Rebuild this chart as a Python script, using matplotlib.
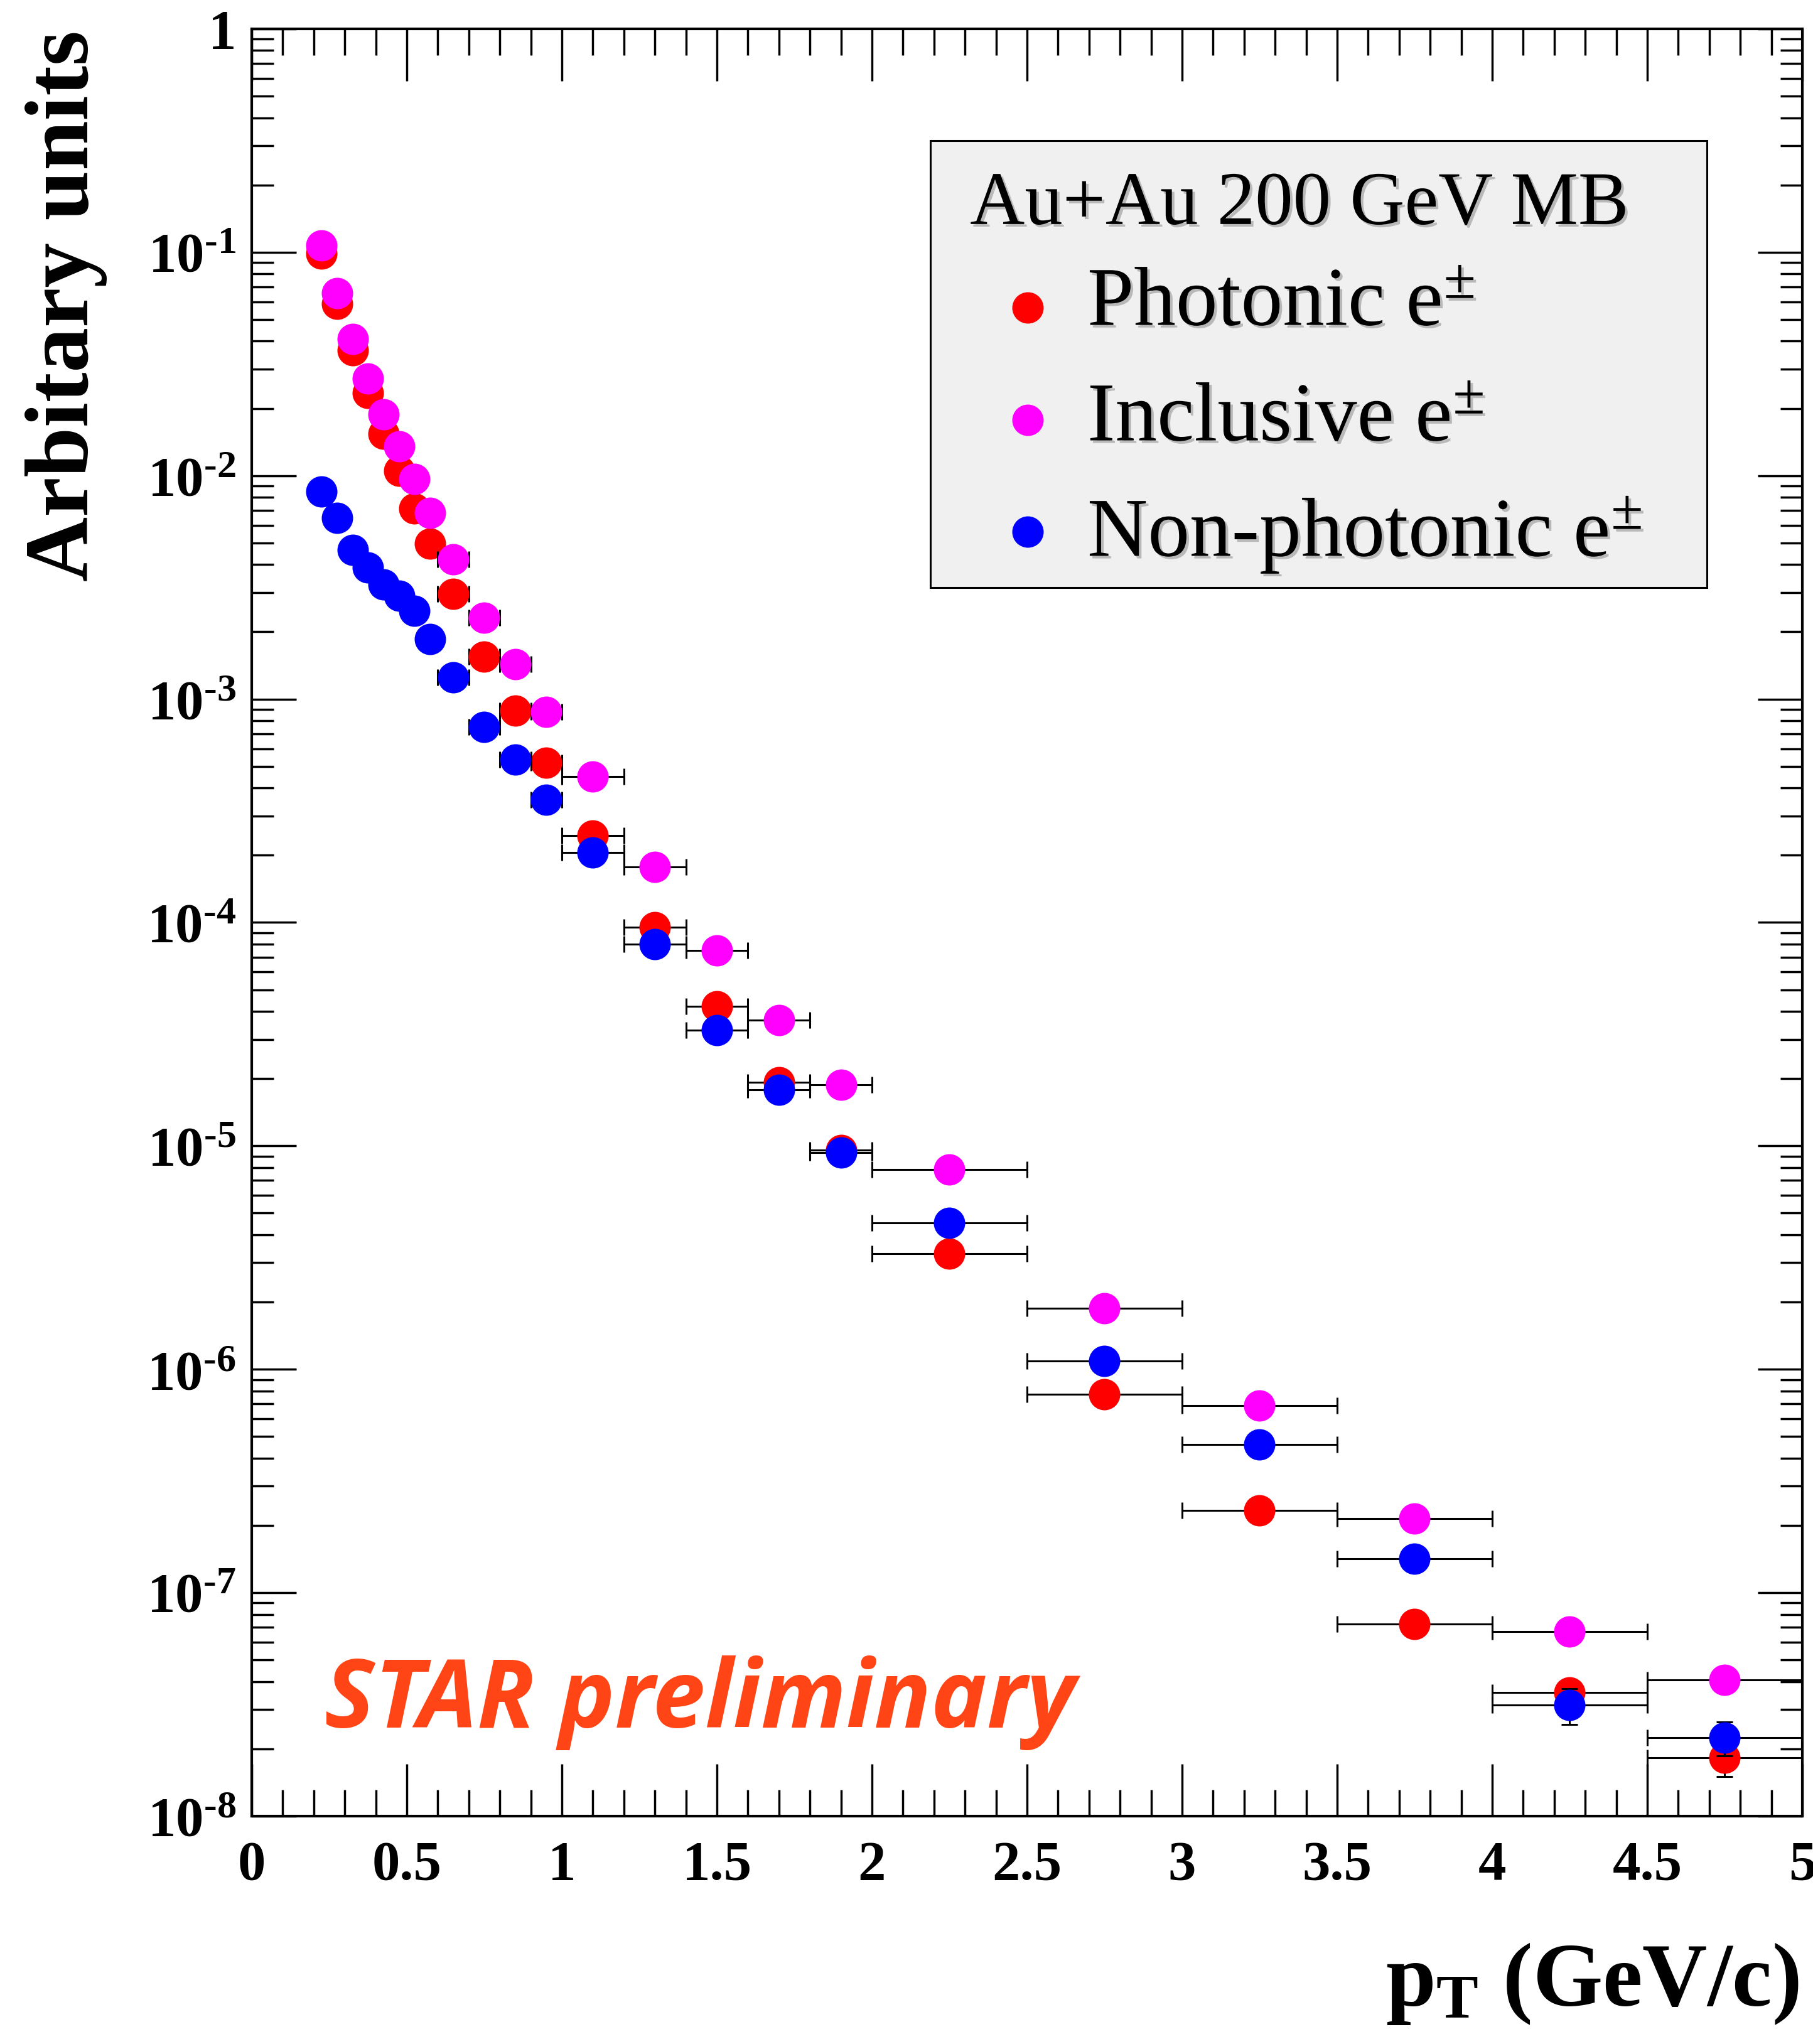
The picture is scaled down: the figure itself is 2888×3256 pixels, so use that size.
import matplotlib
matplotlib.use('Agg')
import matplotlib.pyplot as plt
import matplotlib.patheffects as pe
from matplotlib.patches import Rectangle
from matplotlib.ticker import MultipleLocator, LogLocator, NullFormatter, FixedLocator, FixedFormatter

# pT bin centres and half widths (GeV/c)
pt = [0.225, 0.275, 0.325, 0.375, 0.425, 0.475, 0.525, 0.575,
      0.65, 0.75, 0.85, 0.95,
      1.1, 1.3, 1.5, 1.7, 1.9,
      2.25, 2.75, 3.25, 3.75, 4.25, 4.75]
pt_halfwidth = [0.025, 0.025, 0.025, 0.025, 0.025, 0.025, 0.025, 0.025,
                0.05, 0.05, 0.05, 0.05,
                0.1, 0.1, 0.1, 0.1, 0.1,
                0.25, 0.25, 0.25, 0.25, 0.25, 0.25]

photonic = [0.0986, 0.0588, 0.0365, 0.0234, 0.0154, 0.0105, 0.00713, 0.00496,
            0.00296, 0.00155, 0.000887, 0.000518,
            0.000245, 9.53e-5, 4.22e-5, 1.93e-5, 9.6e-6,
            3.30e-6, 7.73e-7, 2.33e-7, 7.24e-8, 3.57e-8, 1.83e-8]
photonic_err = [0, 0, 0, 0, 0, 0, 0, 0,
                0, 0, 0, 0,
                0, 0, 0, 0, 0,
                0, 0, 0, 0, 0.4e-8, 0.33e-8]

inclusive = [0.107, 0.0656, 0.0409, 0.0272, 0.0188, 0.0135, 0.00966, 0.00682,
             0.00421, 0.00231, 0.00143, 0.000877,
             0.000449, 0.000177, 7.5e-5, 3.66e-5, 1.88e-5,
             7.85e-6, 1.88e-6, 6.87e-7, 2.15e-7, 6.68e-8, 4.06e-8]
inclusive_err = [0, 0, 0, 0, 0, 0, 0, 0,
                 0, 0, 0, 0,
                 0, 0, 0, 0, 0,
                 0, 0, 0, 0, 0, 0]

nonphotonic = [0.00851, 0.00649, 0.00464, 0.00388, 0.00325, 0.00290, 0.00248, 0.00186,
               0.00125, 0.000748, 0.000535, 0.000354,
               0.000206, 8.0e-5, 3.30e-5, 1.78e-5, 9.35e-6,
               4.51e-6, 1.09e-6, 4.6e-7, 1.42e-7, 3.15e-8, 2.25e-8]
nonphotonic_err = [0, 0, 0, 0, 0, 0, 0, 0,
                   0, 0, 0, 0,
                   0, 0, 0, 0, 0,
                   0, 0, 0, 0, 0.57e-8, 0.39e-8]

x_ticks = [0, 0.5, 1, 1.5, 2, 2.5, 3, 3.5, 4, 4.5, 5]
x_ticklabels = ['0', '0.5', '1', '1.5', '2', '2.5', '3', '3.5', '4', '4.5', '5']
y_ticks = [1e-8, 1e-7, 1e-6, 1e-5, 1e-4, 1e-3, 1e-2, 1e-1, 1]
y_ticklabels = [r'$\mathregular{10^{‐8}}$', r'$\mathregular{10^{‐7}}$',
                r'$\mathregular{10^{‐6}}$', r'$\mathregular{10^{‐5}}$',
                r'$\mathregular{10^{‐4}}$', r'$\mathregular{10^{‐3}}$',
                r'$\mathregular{10^{‐2}}$', r'$\mathregular{10^{‐1}}$', '1']

legend_title = 'Au+Au 200 GeV MB'
labels = [r'Photonic $\mathregular{e^{\pm}}$',
          r'Inclusive $\mathregular{e^{\pm}}$',
          r'Non-photonic $\mathregular{e^{\pm}}$']
colors = ['#ff0000', '#ff00ff', '#0000ff']

SERIF = 'Liberation Serif'

fig = plt.figure(figsize=(28.88, 32.56), dpi=100)
ax = fig.add_axes([0.13885, 0.11149, 0.85526, 0.87439])

# draw each graph: bars first, then its markers on top
for i, (vals, errs, col) in enumerate(zip([photonic, inclusive, nonphotonic],
                                          [photonic_err, inclusive_err, nonphotonic_err],
                                          colors)):
    z = 3 + i
    ax.errorbar(pt, vals, xerr=pt_halfwidth, yerr=errs, fmt='none', ecolor='k',
                elinewidth=2.2, capsize=9.5, capthick=2.2, zorder=z)
    ax.plot(pt, vals, 'o', color=col, markersize=36, markeredgewidth=0, zorder=z + 0.5)

ax.set_yscale('log')
ax.set_xlim(0, 5)
ax.set_ylim(1e-8, 1)

ax.xaxis.set_major_locator(FixedLocator(x_ticks))
ax.xaxis.set_major_formatter(FixedFormatter(x_ticklabels))
ax.xaxis.set_minor_locator(MultipleLocator(0.1))
ax.yaxis.set_major_locator(FixedLocator(y_ticks))
ax.yaxis.set_major_formatter(FixedFormatter(y_ticklabels))
ax.yaxis.set_minor_locator(LogLocator(base=10, subs=range(2, 10), numticks=20))
ax.yaxis.set_minor_formatter(NullFormatter())

ax.tick_params(axis='x', which='major', direction='in', top=True, bottom=True,
               length=60, width=2.5, pad=28)
ax.tick_params(axis='x', which='minor', direction='in', top=True, bottom=True,
               length=30, width=2.5)
ax.tick_params(axis='y', which='major', direction='in', left=True, right=True,
               length=51, width=2.5, pad=18)
ax.tick_params(axis='y', which='minor', direction='in', left=True, right=True,
               length=25, width=2.5)
for lab in ax.get_xticklabels() + ax.get_yticklabels():
    lab.set_fontfamily(SERIF)
    lab.set_fontweight('bold')
    lab.set_fontsize(64)
for sp in ax.spines.values():
    sp.set_linewidth(3)

# axis titles
fig.text(0.01385, 0.98526, 'Arbitary units', rotation=90, ha='left', va='top',
         fontfamily=SERIF, fontweight='bold', fontsize=103)
fig.text(0.99238, 0.01873, r'$\mathregular{p_{T}}$ (GeV/c)', ha='right', va='baseline',
         fontfamily=SERIF, fontweight='bold', fontsize=103)

# legend box
ax.add_patch(Rectangle((0.4377, 0.6874), 0.5008, 0.2501, transform=ax.transAxes,
                       facecolor='#f0f0f0', edgecolor='k', linewidth=2.2, zorder=8))
shadow = [pe.SimplePatchShadow(offset=(3, -3), shadow_rgbFace='#555555', alpha=0.35),
          pe.Normal()]
ax.text(0.4632, 0.8908, legend_title, transform=ax.transAxes, ha='left', va='baseline',
        fontfamily=SERIF, fontsize=87, zorder=9, path_effects=shadow)
key_y = [0.8440, 0.7812, 0.7187]
text_y = [0.8342, 0.7696, 0.7050]
for lab, col, ky, ty in zip(labels, colors, key_y, text_y):
    ax.plot([0.5004], [ky], 'o', color=col, markersize=36, markeredgewidth=0,
            transform=ax.transAxes, zorder=9, clip_on=False)
    ax.text(0.5389, ty, lab, transform=ax.transAxes, ha='left', va='baseline',
            fontfamily=SERIF, fontsize=96, zorder=9, path_effects=shadow)

ax.text(0.047, 0.0495, 'STAR preliminary', transform=ax.transAxes, ha='left',
        va='baseline', fontfamily='Open Sans', fontweight='bold', fontstyle='italic',
        fontsize=108, color='#ff4416', zorder=9)

fig.savefig('out.png', dpi=100, facecolor='white')
